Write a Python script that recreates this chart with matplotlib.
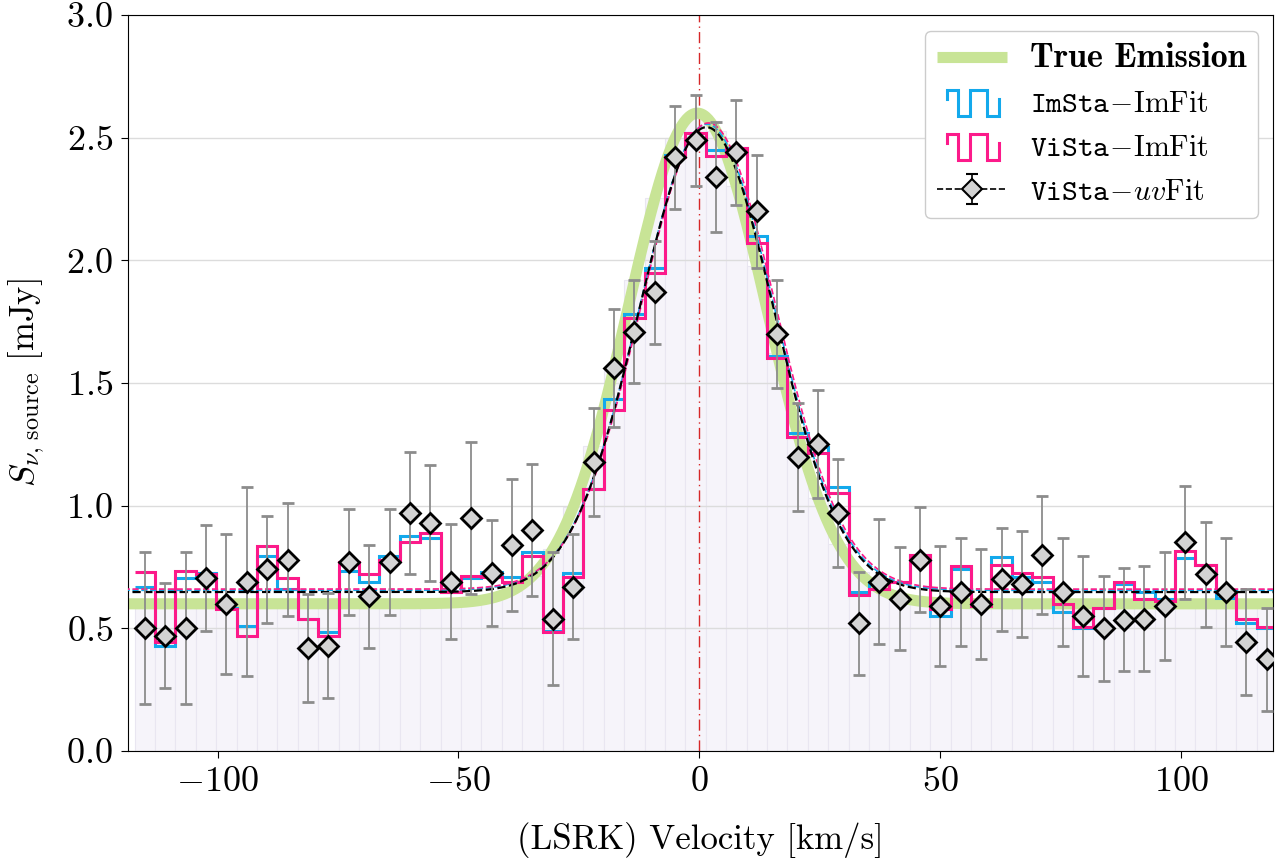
import numpy as np
import matplotlib
matplotlib.use('Agg')
import matplotlib.pyplot as plt
from matplotlib.legend_handler import HandlerBase
from matplotlib.lines import Line2D

plt.rcParams['font.family'] = 'serif'
plt.rcParams['font.serif'] = ['cmr10']
plt.rcParams['mathtext.fontset'] = 'cm'
plt.rcParams['axes.formatter.use_mathtext'] = True

# channel grid (km/s)
v_first = -115.1
dv = 4.235
n_chan = 56

# ViSta-uvFit points and errors (mJy)
uv_flux = [0.50, 0.47, 0.50, 0.705, 0.60, 0.69, 0.74, 0.78, 0.42, 0.43,
           0.77, 0.63, 0.77, 0.97, 0.93, 0.69, 0.95, 0.725, 0.84, 0.90,
           0.54, 0.67, 1.18, 1.56, 1.71, 1.87, 2.42, 2.49, 2.34, 2.44,
           2.20, 1.70, 1.20, 1.25, 0.97, 0.52, 0.69, 0.62, 0.78, 0.59,
           0.65, 0.60, 0.70, 0.68, 0.80, 0.65, 0.55, 0.50, 0.535, 0.54,
           0.59, 0.85, 0.72, 0.65, 0.445, 0.375]
uv_err = [0.31, 0.215, 0.31, 0.215, 0.285, 0.385, 0.22, 0.23, 0.22, 0.215,
          0.215, 0.21, 0.215, 0.25, 0.235, 0.235, 0.31, 0.215, 0.27, 0.27,
          0.27, 0.215, 0.22, 0.24, 0.21, 0.21, 0.21, 0.185, 0.225, 0.215,
          0.23, 0.22, 0.22, 0.22, 0.22, 0.21, 0.255, 0.21, 0.215, 0.245,
          0.22, 0.225, 0.21, 0.215, 0.24, 0.22, 0.245, 0.215, 0.21, 0.215,
          0.22, 0.23, 0.215, 0.22, 0.215, 0.21]

# ImSta-ImFit and ViSta-ImFit channel fluxes (mJy)
imsta_flux = [0.67, 0.43, 0.705, 0.725, 0.585, 0.51, 0.795, 0.66, 0.54, 0.485,
              0.735, 0.69, 0.795, 0.875, 0.87, 0.65, 0.705, 0.73, 0.71, 0.81,
              0.49, 0.725, 1.07, 1.435, 1.78, 1.97, 2.43, 2.52, 2.45, 2.46,
              2.10, 1.61, 1.295, 1.24, 1.075, 0.65, 0.69, 0.69, 0.80, 0.55,
              0.74, 0.59, 0.79, 0.71, 0.69, 0.565, 0.50, 0.585, 0.68, 0.65,
              0.62, 0.785, 0.76, 0.625, 0.52, 0.50]
vista_flux = [0.73, 0.445, 0.735, 0.72, 0.58, 0.47, 0.835, 0.705, 0.54, 0.47,
              0.77, 0.72, 0.78, 0.85, 0.89, 0.65, 0.715, 0.71, 0.69, 0.795,
              0.485, 0.71, 1.07, 1.39, 1.765, 1.95, 2.42, 2.52, 2.425, 2.46,
              2.07, 1.60, 1.28, 1.215, 1.05, 0.635, 0.66, 0.69, 0.80, 0.58,
              0.755, 0.59, 0.76, 0.725, 0.71, 0.60, 0.505, 0.585, 0.69, 0.62,
              0.61, 0.815, 0.76, 0.65, 0.54, 0.505]

# Gaussian line models: (continuum, amplitude, centre, sigma)
true_model = (0.60, 2.00, -0.4, 14.3)
uvfit_model = (0.648, 1.895, 1.5, 14.0)
imsta_model = (0.655, 1.90, 1.6, 14.0)
vista_model = (0.660, 1.90, 1.9, 14.0)


def gauss(x, p):
    c, a, mu, s = p
    return c + a * np.exp(-0.5 * ((x - mu) / s) ** 2)


class HandlerSquareWave(HandlerBase):
    def create_artists(self, legend, orig_handle, xdescent, ydescent,
                       width, height, fontsize, trans):
        x0 = -xdescent + 0.14 * width
        w = 0.74 * width
        lo = -ydescent - 0.2 * height
        hi = -ydescent + 1.05 * height
        mid = -ydescent + 0.6 * height
        fx = [0, 0, .22, .22, .45, .45, .77, .77, 1.0, 1.0]
        fy = [mid, hi, hi, lo, lo, hi, hi, lo, lo, mid]
        line = Line2D([x0 + f * w for f in fx], fy,
                      color=orig_handle.get_color(), lw=orig_handle.get_linewidth(),
                      solid_joinstyle='miter', transform=trans)
        return [line]


vel = v_first + dv * np.arange(n_chan)
edges = np.append(vel - dv / 2, vel[-1] + dv / 2)
vfine = np.linspace(-125, 125, 1000)

fig = plt.figure(figsize=(12.86, 8.59), dpi=100)
ax = fig.add_axes([0.0995, 0.1257, 0.8904, 0.8568])

# faint channel bars under the true emission
ax.bar(vel, gauss(vel, true_model), width=dv, color='#f6f4fa',
       edgecolor='#e9e6f1', linewidth=0.8, zorder=0)

ax.axvline(0, color='#d62728', ls=(0, (8, 3, 1, 3)), lw=1.0, zorder=1)

green, = ax.plot(vfine, gauss(vfine, true_model), color='#c8e496', lw=8,
                 solid_capstyle='butt', zorder=2)

blue = ax.stairs(imsta_flux, edges, baseline=None, color='#13a9ec', lw=2.2, zorder=3)
pink = ax.stairs(vista_flux, edges, baseline=None, color='#fc1a8a', lw=2.2, zorder=4)

ax.plot(vfine, gauss(vfine, imsta_model), color='#13a9ec', ls='--', lw=1.2, zorder=5)
ax.plot(vfine, gauss(vfine, vista_model), color='#fc1a8a', ls='--', lw=1.2, zorder=5)
ax.plot(vfine, gauss(vfine, uvfit_model), color='k', ls='--', lw=1.6, zorder=6)

ax.errorbar(vel, uv_flux, yerr=uv_err, fmt='none', ecolor='#8c8c8c',
            elinewidth=1.3, capsize=4, capthick=2, zorder=7)
ax.plot(vel, uv_flux, ls='none', marker='D', ms=10.5, mfc='#d3d3d3',
        mec='k', mew=2, zorder=8)

# legend proxies
blue_h = Line2D([], [], color='#13a9ec', lw=2.2)
pink_h = Line2D([], [], color='#fc1a8a', lw=2.2)
uv_h = ax.errorbar([np.nan], [np.nan], yerr=[np.nan], fmt='D', ls='--', color='k',
                   ms=10, mfc='#d3d3d3', mec='k', mew=1.5, ecolor='k',
                   elinewidth=1.2, capsize=4, lw=1.2)

leg = ax.legend([green, blue_h, pink_h, uv_h],
                ['True Emission',
                 r'$\mathtt{ImSta}\!-\!\mathrm{ImFit}$',
                 r'$\mathtt{ViSta}\!-\!\mathrm{ImFit}$',
                 r'$\mathtt{ViSta}\!-\!uv\mathrm{Fit}$'],
                handler_map={blue_h: HandlerSquareWave(), pink_h: HandlerSquareWave()},
                loc='upper right', bbox_to_anchor=(0.987, 0.978), borderaxespad=0,
                fontsize=21.5, handlelength=2.35, handletextpad=0.75, labelspacing=0.55,
                borderpad=0.4, framealpha=1, edgecolor='#cccccc', fancybox=True)
leg.get_texts()[0].set_family('cmb10')
leg.get_texts()[0].set_fontsize(24.5)
leg.set_zorder(20)

ax.set_xlim(-118.6, 119.1)
ax.set_ylim(0, 3.0)
ax.set_yticks(np.arange(0, 3.01, 0.5))
ax.set_xticks([-100, -50, 0, 50, 100])
ax.yaxis.set_major_formatter(plt.FormatStrFormatter(r'$%.1f$'))
ax.grid(axis='y', color='#dcdcdc', lw=1.0, zorder=0)
ax.set_axisbelow(True)
ax.tick_params(labelsize=26, length=5, pad=6)

ax.set_xlabel('(LSRK) Velocity [km/s]', fontsize=25, labelpad=17)
ax.set_ylabel(r'$S_{\nu,\,\mathrm{source}}\ [\mathrm{mJy}]$', fontsize=25, labelpad=14)

fig.savefig('out.png', dpi=100)
